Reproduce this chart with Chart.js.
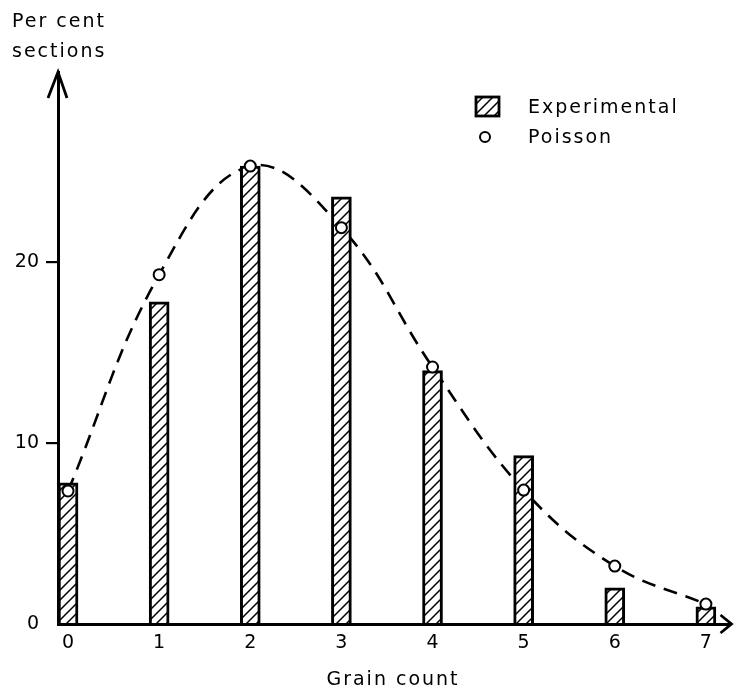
<!DOCTYPE html>
<html>
<head>
<meta charset="utf-8">
<script src="https://cdn.jsdelivr.net/npm/chart.js@4.4.0/dist/chart.umd.min.js"></script>
<style>
  html, body { margin: 0; padding: 0; background: #fff; }
</style>
</head>
<body>
<canvas id="grainChart" width="738" height="690"></canvas>
<script>
const grainCounts = [0, 1, 2, 3, 4, 5, 6, 7];
const experimental = [7.8, 17.8, 25.3, 23.6, 14.0, 9.3, 2.0, 0.95];
const poisson = [7.35, 19.3, 25.3, 21.9, 14.2, 7.4, 3.2, 1.1];
const yTicks = [0, 10, 20];
const yTitle = ['Per cent', 'sections'];
const xTitle = 'Grain count';
const legendLabels = ['Experimental', 'Poisson'];

const FONT = 'DejaVu Sans';

// diagonal "/" hatching for the bars
const makeHatch = () => {
  const c = document.createElement('canvas');
  c.width = 10; c.height = 10;
  const g = c.getContext('2d');
  g.fillStyle = '#fff';
  g.fillRect(0, 0, 10, 10);
  g.strokeStyle = '#000';
  g.lineWidth = 1.5;
  g.beginPath();
  g.moveTo(-2, 12); g.lineTo(12, -2);
  g.moveTo(-2, 2); g.lineTo(2, -2);
  g.moveTo(8, 12); g.lineTo(12, 8);
  g.stroke();
  return g.createPattern(c, 'repeat');
};
const hatch = makeHatch();

const decor = {
  id: 'decor',
  afterDraw(chart) {
    const { ctx, chartArea: a } = chart;
    ctx.save();
    ctx.strokeStyle = '#000';
    ctx.lineWidth = 2.8;
    // axis arrows
    ctx.beginPath();
    ctx.moveTo(a.left - 10, a.top + 26);
    ctx.lineTo(a.left, a.top);
    ctx.lineTo(a.left + 9, a.top + 26);
    ctx.moveTo(a.right - 10, a.bottom - 9);
    ctx.lineTo(a.right + 1, a.bottom);
    ctx.lineTo(a.right - 10, a.bottom + 9);
    ctx.stroke();

    // titles
    ctx.fillStyle = '#000';
    ctx.font = '19px "' + FONT + '"';
    ctx.letterSpacing = '2px';
    ctx.textBaseline = 'alphabetic';
    ctx.textAlign = 'left';
    ctx.fillText(yTitle[0], 12, 27);
    ctx.fillText(yTitle[1], 12, 57);
    ctx.textAlign = 'center';
    ctx.fillText(xTitle, 393, 685);

    // legend
    ctx.textAlign = 'left';
    ctx.fillStyle = hatch;
    ctx.fillRect(476, 97, 23, 19);
    ctx.lineWidth = 2.8;
    ctx.strokeRect(476, 97, 23, 19);
    ctx.beginPath();
    ctx.arc(485, 137, 5, 0, Math.PI * 2);
    ctx.fillStyle = '#fff';
    ctx.fill();
    ctx.lineWidth = 2;
    ctx.stroke();
    ctx.fillStyle = '#000';
    ctx.textBaseline = 'middle';
    ctx.fillText(legendLabels[0], 528, 108);
    ctx.fillText(legendLabels[1], 528, 138);
    ctx.restore();
  }
};

new Chart(document.getElementById('grainChart'), {
  type: 'bar',
  data: {
    datasets: [
      {
        type: 'line',
        label: 'curve',
        data: grainCounts.map((g, i) => ({ x: g, y: poisson[i] })),
        borderColor: '#000',
        borderWidth: 2.6,
        borderDash: [14, 9],
        tension: 0.4,
        pointRadius: 0,
        fill: false,
        order: 3
      },
      {
        type: 'bar',
        label: legendLabels[0],
        data: grainCounts.map((g, i) => ({ x: g, y: experimental[i] })),
        backgroundColor: hatch,
        borderColor: '#000',
        borderWidth: 3,
        barThickness: 20,
        order: 2
      },
      {
        type: 'line',
        label: legendLabels[1],
        data: grainCounts.map((g, i) => ({ x: g, y: poisson[i] })),
        showLine: false,
        pointRadius: 5.5,
        pointBackgroundColor: '#fff',
        pointBorderColor: '#000',
        pointBorderWidth: 2,
        order: 1
      }
    ]
  },
  options: {
    responsive: false,
    animation: false,
    devicePixelRatio: 1,
    events: [],
    layout: { padding: { top: 72, right: 2, left: 0, bottom: 0 } },
    plugins: { legend: { display: false }, tooltip: { enabled: false } },
    scales: {
      x: {
        type: 'linear',
        offset: false,
        min: -0.11,
        max: 7.27,
        afterFit: (s) => { s.height = 66; },
        afterBuildTicks: (s) => { s.ticks = grainCounts.map(v => ({ value: v })); },
        grid: { display: false, drawTicks: false },
        border: { display: true, color: '#000', width: 3 },
        ticks: { color: '#000', padding: 8, font: { family: FONT, size: 19 } }
      },
      y: {
        min: 0,
        max: 30.5,
        afterFit: (s) => { s.width = 58; },
        afterBuildTicks: (s) => { s.ticks = yTicks.map(v => ({ value: v })); },
        grid: {
          display: true,
          drawOnChartArea: false,
          drawTicks: true,
          tickLength: 12,
          lineWidth: 2.2,
          color: (c) => (c.tick && c.tick.value === 0 ? 'rgba(0,0,0,0)' : '#000')
        },
        border: { display: true, color: '#000', width: 3 },
        ticks: { color: '#000', padding: 7, font: { family: FONT, size: 19 } }
      }
    }
  },
  plugins: [decor]
});
</script>
</body>
</html>
